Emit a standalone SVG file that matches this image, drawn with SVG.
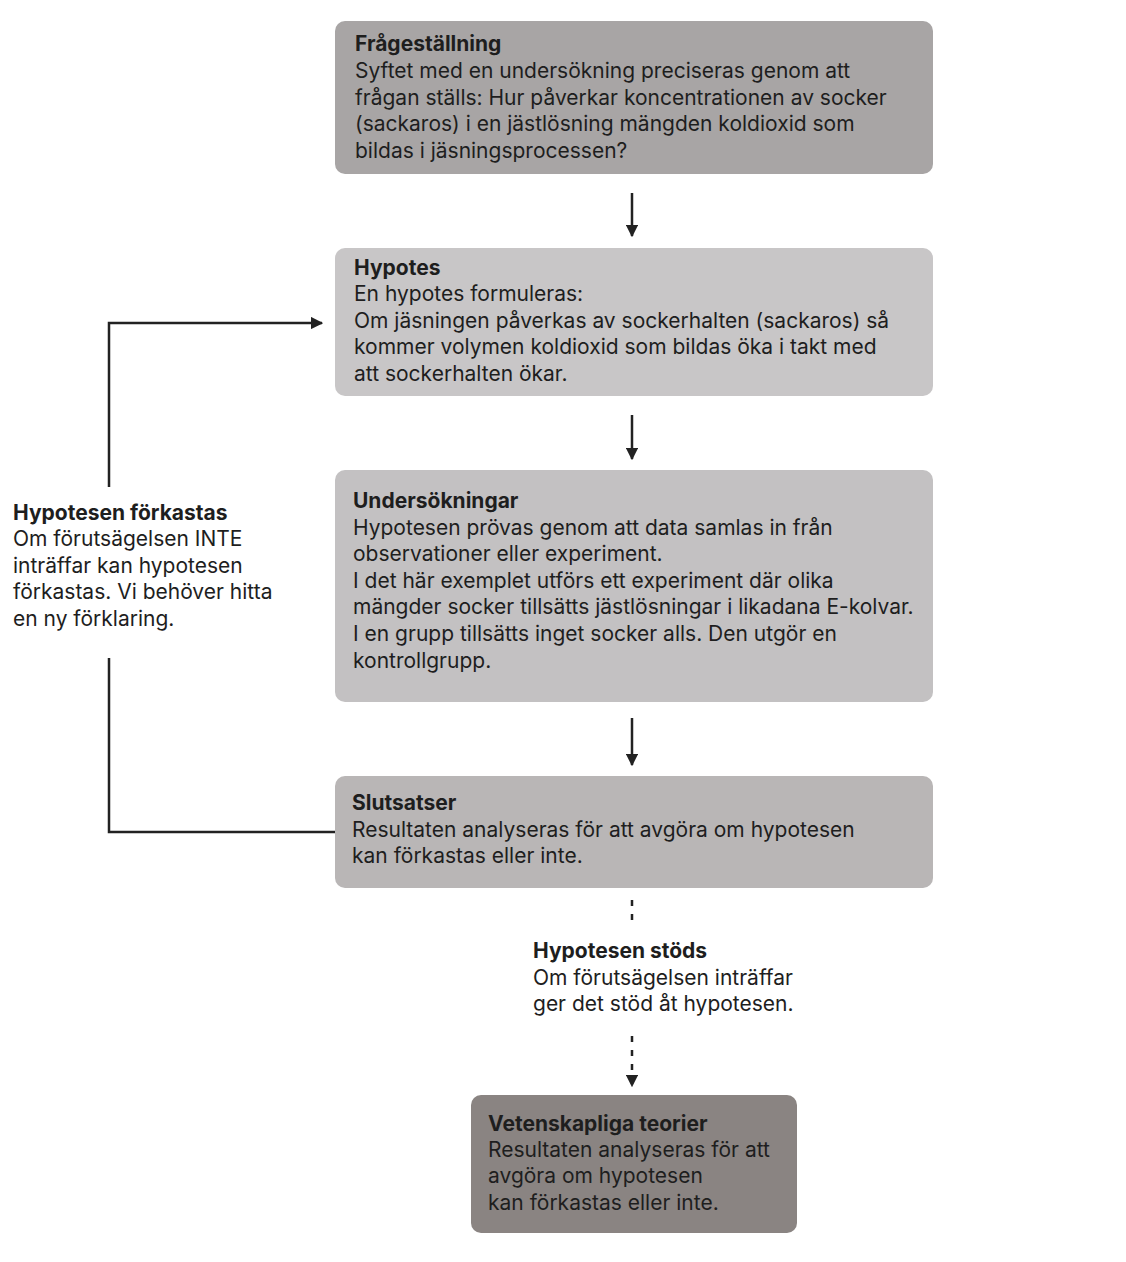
<svg xmlns="http://www.w3.org/2000/svg" width="1126" height="1262" viewBox="0 0 1126 1262">
  <defs>
    <marker id="head" viewBox="0 0 10 10" refX="9" refY="5" markerWidth="5" markerHeight="5" orient="auto" markerUnits="strokeWidth">
      <path d="M0,0 L10,5 L0,10 Z" fill="#222"/>
    </marker>
    <style>
      text { font-family: Inter, "Open Sans", sans-serif; font-size: 21px; fill: #1e1e1e; }
      .t { font-weight: bold; }
      .box { stroke: none; }
      .line { stroke: #222; stroke-width: 2.5; fill: none; }
      .dash { stroke: #222; stroke-width: 2.5; fill: none; stroke-dasharray: 6 8; }
    </style>
  </defs>
  <rect width="1126" height="1262" fill="#ffffff"/>

  <g id="connectors">
    <line class="line" x1="632" y1="193" x2="632" y2="236" marker-end="url(#head)"/>
    <line class="line" x1="632" y1="415" x2="632" y2="459" marker-end="url(#head)"/>
    <line class="line" x1="632" y1="718" x2="632" y2="765" marker-end="url(#head)"/>
    <line class="dash" x1="632" y1="900" x2="632" y2="922"/>
    <line class="dash" x1="632" y1="1036" x2="632" y2="1086" marker-end="url(#head)"/>
    <polyline class="line" points="335,832 109,832 109,658"/>
    <polyline class="line" points="109,487 109,323 322,323" marker-end="url(#head)"/>
  </g>

  <g id="fragestallning">
    <rect class="box" x="335" y="21" width="598" height="153" rx="10" fill="#a8a5a5"/>
    <text x="355" y="51" class="t">Frågeställning</text>
    <text x="355" y="78">Syftet med en undersökning preciseras genom att</text>
    <text x="355" y="105">frågan ställs: Hur påverkar koncentrationen av socker</text>
    <text x="355" y="131">(sackaros) i en jästlösning mängden koldioxid som</text>
    <text x="355" y="158">bildas i jäsningsprocessen?</text>
  </g>

  <g id="hypotes">
    <rect class="box" x="335" y="248" width="598" height="148" rx="10" fill="#c8c6c7"/>
    <text x="354" y="275" class="t">Hypotes</text>
    <text x="354" y="301">En hypotes formuleras:</text>
    <text x="354" y="328">Om jäsningen påverkas av sockerhalten (sackaros) så</text>
    <text x="354" y="354">kommer volymen koldioxid som bildas öka i takt med</text>
    <text x="354" y="381">att sockerhalten ökar.</text>
  </g>

  <g id="undersokningar">
    <rect class="box" x="335" y="470" width="598" height="232" rx="10" fill="#c3c1c2"/>
    <text x="353" y="508" class="t">Undersökningar</text>
    <text x="353" y="535">Hypotesen prövas genom att data samlas in från</text>
    <text x="353" y="561">observationer eller experiment.</text>
    <text x="353" y="588">I det här exemplet utförs ett experiment där olika</text>
    <text x="353" y="614">mängder socker tillsätts jästlösningar i likadana E-kolvar.</text>
    <text x="353" y="641">I en grupp tillsätts inget socker alls. Den utgör en</text>
    <text x="353" y="668">kontrollgrupp.</text>
  </g>

  <g id="slutsatser">
    <rect class="box" x="335" y="776" width="598" height="112" rx="10" fill="#b9b6b6"/>
    <text x="352" y="810" class="t">Slutsatser</text>
    <text x="352" y="837">Resultaten analyseras för att avgöra om hypotesen</text>
    <text x="352" y="863">kan förkastas eller inte.</text>
  </g>

  <g id="forkastas">
    <text x="13" y="520" class="t">Hypotesen förkastas</text>
    <text x="13" y="546">Om förutsägelsen INTE</text>
    <text x="13" y="573">inträffar kan hypotesen</text>
    <text x="13" y="599">förkastas. Vi behöver hitta</text>
    <text x="13" y="626">en ny förklaring.</text>
  </g>

  <g id="stods">
    <text x="533" y="958" class="t">Hypotesen stöds</text>
    <text x="533" y="985">Om förutsägelsen inträffar</text>
    <text x="533" y="1011">ger det stöd åt hypotesen.</text>
  </g>

  <g id="teorier">
    <rect class="box" x="471" y="1095" width="326" height="138" rx="10" fill="#8a8482"/>
    <text x="488" y="1131" class="t">Vetenskapliga teorier</text>
    <text x="488" y="1157">Resultaten analyseras för att</text>
    <text x="488" y="1183">avgöra om hypotesen</text>
    <text x="488" y="1210">kan förkastas eller inte.</text>
  </g>
</svg>
